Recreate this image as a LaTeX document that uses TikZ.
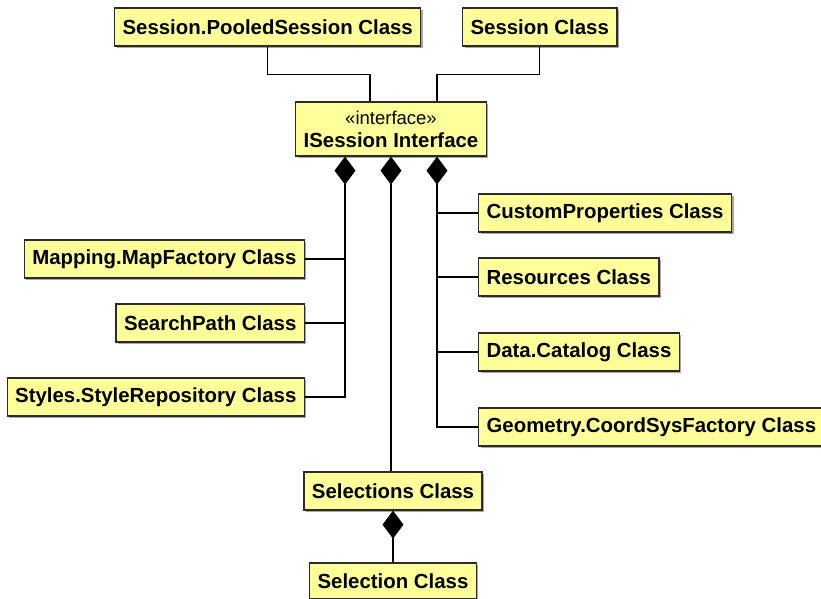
\documentclass[tikz,border=0pt]{standalone}
\usepackage{fontspec}
\setmainfont{Liberation Sans}
\usetikzlibrary{arrows.meta,positioning,shadows}
\definecolor{clsfill}{HTML}{FFFF99}
\definecolor{edge}{HTML}{2B2B2B}
\tikzset{
  cls/.style={draw=edge,line width=1.2pt,fill=clsfill,font=\fontsize{20.4}{23}\selectfont\bfseries,
    inner xsep=8pt,inner ysep=0pt,minimum height=38pt,
    drop shadow={shadow xshift=2pt,shadow yshift=-2pt,fill=gray!70,opacity=1}},
  link/.style={line width=1.3pt,black},
  comp/.style={link,{Diamond[length=28pt,width=21pt]}-}
}

\begin{document}
\begin{tikzpicture}[x=1pt,y=-1pt]
  \useasboundingbox (0,0) rectangle (821,599);
  % top row
  \node[cls,anchor=west] (pooled) at (114,27) {Session.PooledSession Class};
  \node[cls,anchor=west] (sess) at (462,27) {Session Class};
  \node[cls,align=center,minimum height=54pt] (iface) at (391,129)
    {{\fontsize{18.5}{20}\selectfont\mdseries «interface»}\\ISession Interface};
  % parts
  \foreach \n/\t/\y in {mapf/Mapping.MapFactory Class/259, spath/SearchPath Class/323, styles/Styles.StyleRepository Class/397}
    \node[cls,anchor=east] (\n) at (305,\y) {\t};
  \foreach \n/\t/\y in {cprops/CustomProperties Class/213, res/Resources Class/277, cat/Data.Catalog Class/352, geom/Geometry.CoordSysFactory Class/427}
    \node[cls,anchor=west] (\n) at (478,\y) {\t};
  \node[cls] (sels) at (393,491) {Selections Class};
  \node[cls,minimum height=36pt] (sel) at (393,581) {Selection Class};
  \coordinate (dl) at ([xshift=-46pt]iface.south);
  \coordinate (dr) at ([xshift=46pt]iface.south);
  % connectors
  \draw[link] (pooled.south) -- ++(0,28) -| ([xshift=-21pt]iface.north);
  \draw[link] (sess.south) -- ++(0,28) -| ([xshift=46pt]iface.north);
  \draw[comp] (dl) |- (styles.east);
  \foreach \n in {mapf,spath} \draw[link] (\n.east) -- (\n.east -| dl);
  \draw[comp] (dr) |- (geom.west);
  \foreach \n in {cprops,res,cat} \draw[link] (\n.west) -- (\n.west -| dr);
  \draw[comp] (iface.south) -- (iface.south |- sels.north);
  \draw[comp] (sels.south) -- (sel.north);
\end{tikzpicture}
\end{document}
